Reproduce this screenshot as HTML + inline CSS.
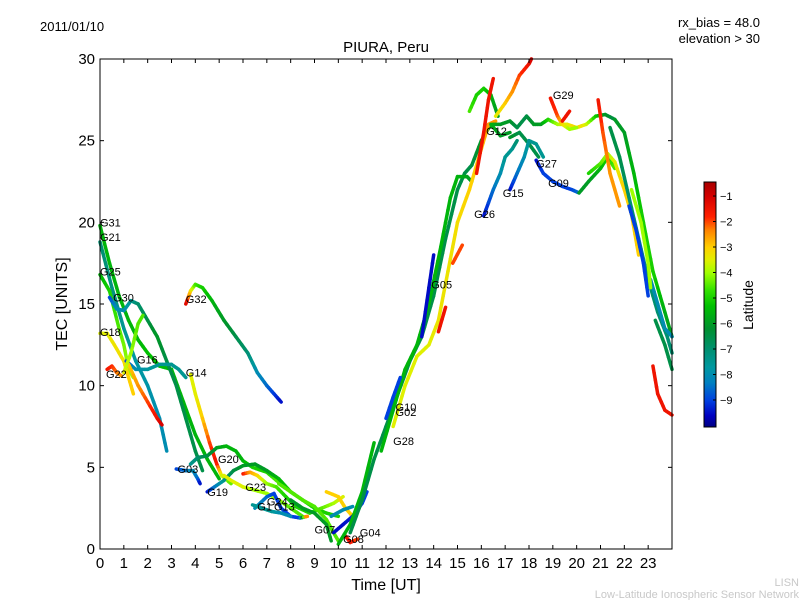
<!DOCTYPE html>
<html><head><meta charset="utf-8"><style>
body{margin:0;background:#fff;}
svg{display:block;font-family:"Liberation Sans","DejaVu Sans",sans-serif;}
</style></head><body>
<svg id="chart" width="800" height="600" viewBox="0 0 800 600" xmlns="http://www.w3.org/2000/svg">
<rect width="800" height="600" fill="#fff"/>
<g id="marks"></g>
<rect x="100" y="59" width="572" height="490" fill="none" stroke="#000" stroke-width="1"/>
<g id="axes"></g>
<g id="labels" font-size="11"></g>
<text x="40" y="31" font-size="13">2011/01/10</text>
<text x="760" y="27" font-size="13" text-anchor="end">rx_bias = 48.0</text>
<text x="760" y="43" font-size="13" text-anchor="end">elevation &gt; 30</text>
<text x="386" y="52" font-size="15" text-anchor="middle">PIURA, Peru</text>
<text transform="translate(67,304) rotate(-90)" font-size="16" text-anchor="middle">TEC [UNITS]</text>
<text x="386" y="590" font-size="16" text-anchor="middle">Time [UT]</text>
<g id="cbar"></g>
<text transform="translate(753,305) rotate(-90)" font-size="14" text-anchor="middle">Latitude</text>
<text x="799" y="586" font-size="11" fill="#c8c8c8" text-anchor="end">LISN</text>
<text x="799" y="598" font-size="11" fill="#c8c8c8" text-anchor="end">Low-Latitude Ionospheric Sensor Network</text>
</svg>
<script>
const xTicks=[0,1,2,3,4,5,6,7,8,9,10,11,12,13,14,15,16,17,18,19,20,21,22,23];
const yTicks=[0,5,10,15,20,25,30];
const cbTicks=[-1,-2,-3,-4,-5,-6,-7,-8,-9];
const trackNames=["G31","G21","G25","G30","G18","G22","G16","G16b","G18b","G14","G32","G03","G03b","G19","G20","G23","G24","G13","G07a","G07b","G07c","G04","G08","G08b","R1","R2","R3","R4","G05","G10","G05r1","G05r2","G12a","G12r","G12o","G12","G12b","G15","G26","G27","G29","G29r","N1","N2","N3","N4","N5","N6","N7","N8","N9","N10"];
const trackTimes=[
[0,0.4,0.8,1.2,1.6,2.0,2.5,3.0,3.5,4.0,4.5,5.0],
[0,0.5,1,1.5,2,2.5,2.8],
[0,0.4,0.8,1.0,1.2,1.4],
[0.4,0.7,1.0,1.3,1.6,2.0,2.4,2.8,3.2,3.6,4.0,4.3],
[0,0.3,0.6,1.0,1.2,1.4],
[0.3,0.5,0.7,0.9],
[1.1,1.5,2,2.5,3,3.3,3.6],
[1.2,1.6,2.0,2.4,2.6],
[1.0,1.3,1.6,1.8],
[3.8,4.0,4.3,4.6,4.9,5.1,5.5],
[3.6,3.8,4.0,4.3,4.7,5.2,5.7,6.2,6.6,7.0,7.3,7.6],
[3.2,3.6,3.9,4.1,4.2],
[3.8,4.1,4.5,4.9,5.3,5.7,6.0,6.4,7,7.4,8,8.5],
[4.5,4.8,5.2,5.6,6,6.5,7,7.5,8,8.5,9,9.5,10],
[5.2,5.5,6,6.5,7,7.5,8,8.5],
[6.0,6.3,6.6,7,7.4,7.8,8.2,8.8,9.3,9.8,10.2],
[6.5,7,7.3,7.6,8,8.4,8.7],
[6.4,6.8,7.2,7.6,8],
[7.5,8,8.5,9,9.5,9.8,10.0],
[8,8.5,9,9.5,9.7],
[9.5,10,10.3,10.6],
[9.8,10.2,10.6,11,11.2],
[10.3,10.5,10.8],
[9.7,10.2,10.6],
[10,10.5,11,11.5],
[10.5,11,11.5,12,12.5,13,13.5,14,14.5,15,15.3,15.6,16,16.4,16.8,17.2],
[11.8,12.3,12.8,13.3,13.8,14.3,14.7,15.0,15.4,15.6],
[12.3,12.8,13.3,13.8,14.2,14.6,15,15.5,16,16.3,16.6],
[13.5,13.8,14],
[12,12.3,12.6],
[14.2,14.5],
[14.8,15.2],
[15.5,15.8,16.1,16.4,16.7],
[15.8,16.1,16.3,16.5],
[16.6,17,17.3,17.6,18,18.1],
[16.4,16.8,17.2,17.5,17.9,18.2,18.5,18.8,19.2,19.6,20,20.4,20.8,21.2,21.6],
[17.2,17.6,18,18.4],
[17.2,17.5,17.8,18,18.3,18.6],
[16.1,16.5,16.8,17,17.3,17.5],
[18.3,18.6,19,19.4,19.8,20.1],
[18.9,19.2,19.4,19.7,20],
[19.4,19.7],
[20.1,20.5,21,21.3,21.6],
[20.5,21,21.3,21.6,22,22.3,22.6],
[21.6,22,22.4,22.8,23.2,23.6,24],
[21.4,21.8,22.2,22.6,23,23.4,23.8,24],
[22.2,22.5,22.8,23],
[23.1,23.4,23.7,24],
[20.9,21.1,21.4,21.8],
[23.2,23.4,23.7,24],
[22.3,22.7,23,23.1],
[23.3,23.7,24]];
const trackTec=[
[19.8,17.5,15.5,14,12.8,12,11.2,11,9,7,5.5,4.3],
[18.8,16,13.5,11.5,10,8,6],
[16.8,15.8,13.5,12.5,11,10.5],
[15.4,14.7,14.6,15.2,15,14,13,11.5,10,8,6,4.8],
[13.2,13.2,12.5,11.5,10.5,9.5],
[11,11.2,10.8,10.6],
[11.5,11,11,11.3,11.3,11,10.5],
[11.3,10,9,8,7.6],
[10.8,12,13.8,14.3],
[10.7,9.5,8,6.5,5.2,4.5,4],
[15,15.8,16.2,16,15.2,14,13,12,10.8,10,9.5,9],
[4.9,4.8,4.8,4.3,4],
[5.2,5.6,5.7,6.2,6.3,6,5.4,5,4.7,4.2,3.5,3],
[3.5,3.8,4.2,4.8,5.1,5.2,4.8,4.3,3.5,3,2.5,2.2,2],
[4.5,4.2,3.8,3.6,3.4,3,2.5,2],
[4.6,4.7,4.5,4.0,3.8,3.2,2.6,2.2,2.5,2.8,3.2],
[2.5,3.2,3.4,2.5,2,1.9,2.0],
[2.7,2.5,2.3,2.2,2],
[4.0,3.5,3,2.6,1.8,1,0.5],
[3,2.5,2.2,1.5,0.5],
[3.5,3.2,2.5,2],
[1.0,1.5,2,2.8,3.5],
[0.8,0.4,0.6],
[2,2.4,2.6],
[0.3,1.5,3.5,6.5],
[1,3,5.5,7.5,9.5,11.5,13,15.5,19,22,23,23.5,25,26,25.3,25.5],
[6,8.5,11,12.5,15,18.5,21.5,22.8,22.8,22.5],
[7.5,10,11.8,12.5,14,17,20,22,24.5,26,26.2],
[13,16,18],
[8,9.3,10.5],
[13.3,14.8],
[17.5,18.6],
[26.8,27.8,28.2,27.8,26.5],
[23,25.5,27.5,28.8],
[26.5,27.3,28,29,29.7,30],
[26,26,26.2,25.8,26.5,26,26,26.3,26,26,25.8,26,26.5,26.6,26.3],
[25.2,25.5,24.8,24],
[22,23,24,25,24.8,24],
[20.4,22,23,24,24.5,25],
[23.8,23,22.5,22.2,22,21.8],
[27.6,26.5,26,25.7,25.8],
[26.2,26.8],
[21.8,22.5,23.3,24,23.3],
[23,23.6,24.2,23.7,22,20.5,18],
[26.3,25.5,23,20,17,15,13],
[25.8,24,21.5,19,16.5,14.5,13,12],
[21,19.5,17.5,15.5],
[16.5,15,13.5,13],
[27.5,25.5,23,21],
[11.2,9.5,8.5,8.2],
[22,20,17.5,16],
[14,12.5,11]];
const trackLat=[
[-5.5,-5.5,-5.5,-5.5,-5.5,-5.3,-5.3,-5.5,-5.5,-5.5,-5.5,-5.5],
[-7,-7.2,-7.5,-7.7,-7.8,-8,-8],
[-5.5,-5,-4.5,-4.3,-4,-4],
[-9,-8,-8,-7.5,-7,-6.5,-6,-6.5,-6.5,-6.5,-6.5,-6.5],
[-3.5,-3.5,-3.3,-3.2,-3,-3],
[-1.5,-1.8,-2.2,-2.5],
[-9,-8,-7.7,-7.5,-7.5,-7.5,-7.5],
[-3,-2.5,-2,-1.5,-1],
[-3.5,-4,-4.5,-4.5],
[-3.5,-3.5,-3,-2,-1.5,-3.5,-4.5],
[-1,-3,-4.5,-5,-5.5,-6,-6.5,-7,-8,-8.5,-9,-9.5],
[-9,-8.5,-8,-8.5,-9.5],
[-7.5,-7,-6.5,-6,-5.5,-5.5,-5.5,-5,-5,-4.5,-4.5,-4.5],
[-9.5,-8.5,-7.5,-6.5,-6,-6,-6,-5.5,-5,-5,-5,-5,-5],
[-3.5,-3.5,-3.5,-4,-4,-4,-4.5,-4.5],
[-1.5,-2.5,-3,-4,-4.5,-5,-5,-5,-4.5,-4,-3.5],
[-8,-8.5,-9,-9,-9,-9,-1.5],
[-7.5,-7.5,-7.5,-8,-8],
[-4.5,-4.5,-4.5,-4.5,-4.5,-4.5,-4.5],
[-6,-6,-6,-6,-6],
[-3,-3,-3,-3],
[-9.5,-9.5,-9.3,-9,-9],
[-1.5,-1.5,-2],
[-8,-8,-8],
[-5.5,-5.5,-5.5,-5.5],
[-6.5,-6.5,-6.5,-6.5,-6.5,-6.5,-6.5,-6.5,-6.5,-6.5,-6.5,-6.5,-6,-5.5,-6,-6],
[-5.5,-5.5,-5.5,-5.5,-5.5,-5.5,-5.5,-5.5,-5.8,-6],
[-3.5,-3.5,-3.5,-3.5,-3.3,-3.3,-3.2,-3,-3,-2.5,-2.5],
[-9.5,-9.5,-9.5],
[-9,-9,-9],
[-1.5,-1.5],
[-2,-2],
[-4.5,-5,-5,-5.5,-6],
[-1.5,-1.5,-1.5,-1.5],
[-3.5,-3,-2.5,-2,-1.5,-1],
[-5.5,-6,-6,-6.5,-6.5,-6,-6,-5,-4,-3.5,-3,-3.5,-5,-6,-6.5],
[-6,-6.5,-6.5,-6.5],
[-9.5,-8.5,-8,-7.5,-7.5,-7.5],
[-9.5,-8.5,-8,-7.5,-7.5,-7],
[-9.5,-9,-9,-9,-9,-8.5],
[-1.5,-2,-3,-4,-4],
[-1.5,-1.5],
[-6,-6,-5.5,-5,-4.5],
[-5,-4.5,-4,-3.5,-3,-3,-3],
[-6,-6,-5.5,-5,-5,-5.5,-6],
[-6.5,-6.5,-7,-7,-7,-7,-7,-7],
[-9,-9,-9,-9],
[-8,-8,-8,-8],
[-1.5,-2,-2.5,-2.5],
[-1.5,-1.5,-1.5,-1.5],
[-4,-4,-4,-4],
[-6.5,-6.5,-6.5]];
const satLabels=["G31","G21","G25","G30","G18","G16","G22","G14","G32","G03","G20","G19","G23","G24","G13","G1","G07","G04","G08","G28","G02","G10","G05","G26","G15","G12","G27","G09","G29"];
const labelT=[0,0,0,0.55,0,1.55,0.25,3.6,3.6,3.25,4.95,4.5,6.1,7.0,7.3,6.6,9.0,10.9,10.2,12.3,12.4,12.4,13.9,15.7,16.9,16.2,18.3,18.8,19.0];
const labelV=[20,19.1,17,15.4,13.3,11.6,10.7,10.8,15.3,4.9,5.5,3.5,3.8,2.9,2.6,2.6,1.2,1.0,0.6,6.6,8.4,8.7,16.2,20.5,21.8,25.6,23.6,22.4,27.8];

const X0=100,X1=672,Y0=549,Y1=59;
const xs=t=>X0+(X1-X0)*t/24;
const ys=v=>Y0-(Y0-Y1)*v/30;
const LMIN=-10.06,LMAX=-0.45;
const cmapStops=[[-10.06,[0,0,128]],[-9.6,[0,0,192]],[-9,[0,64,224]],[-8.3,[0,128,192]],[-7.7,[0,152,160]],[-7,[0,144,112]],[-6.2,[0,144,48]],[-5.3,[0,192,0]],[-4.7,[48,224,0]],[-4,[160,255,0]],[-3.5,[224,240,0]],[-3,[255,208,0]],[-2.3,[255,128,0]],[-1.8,[255,32,0]],[-1,[212,0,0]],[-0.45,[170,0,0]]];
function latColor(l){
 if(l<=cmapStops[0][0])return `rgb(${cmapStops[0][1].join(',')})`;
 for(let i=1;i<cmapStops.length;i++){
  if(l<=cmapStops[i][0]){const a=cmapStops[i-1],b=cmapStops[i];const f=(l-a[0])/(b[0]-a[0]);
   return `rgb(${a[1].map((c,k)=>Math.round(c+(b[1][k]-c)*f)).join(',')})`;}
 }
 return `rgb(${cmapStops[cmapStops.length-1][1].join(',')})`;
}
const NS="http://www.w3.org/2000/svg";
const marks=document.getElementById('marks');
for(let i=0;i<trackTimes.length;i++){
 const g=document.createElementNS(NS,'g');
 
 
 const T=trackTimes[i],V=trackTec[i],L=trackLat[i];
 for(let j=0;j<T.length-1;j++){
  const n=4;
  for(let k=0;k<n;k++){
   const a=k/n,b=(k+1)/n;
   const ln=document.createElementNS(NS,'line');
   
   
   ln.setAttribute('x1',xs(T[j]+(T[j+1]-T[j])*a));ln.setAttribute('y1',ys(V[j]+(V[j+1]-V[j])*a));
   ln.setAttribute('x2',xs(T[j]+(T[j+1]-T[j])*b));ln.setAttribute('y2',ys(V[j]+(V[j+1]-V[j])*b));
   ln.setAttribute('stroke',latColor(L[j]+(L[j+1]-L[j])*(a+b)/2));
   ln.setAttribute('stroke-width','3.5');ln.setAttribute('stroke-linecap','round');
   g.appendChild(ln);
  }
 }
 marks.appendChild(g);
}
const axes=document.getElementById('axes');
function add(parent,tag,attrs,txt){const e=document.createElementNS(NS,tag);for(const k in attrs)e.setAttribute(k,attrs[k]);if(txt!==undefined)e.textContent=txt;parent.appendChild(e);return e;}
xTicks.forEach(t=>{const x=xs(t);
 const a=add(axes,'line',{x1:x,y1:Y0,x2:x,y2:Y0-4,stroke:'#000'});
 const b=add(axes,'line',{x1:x,y1:Y1,x2:x,y2:Y1+4,stroke:'#000'});
 const l=add(axes,'text',{x:x,y:568,'font-size':15,'text-anchor':'middle'},String(t));});
yTicks.forEach(v=>{const y=ys(v);
 const a=add(axes,'line',{x1:X0,y1:y,x2:X0+4,y2:y,stroke:'#000'});
 const b=add(axes,'line',{x1:X1,y1:y,x2:X1-4,y2:y,stroke:'#000'});
 const l=add(axes,'text',{x:95,y:y+5,'font-size':15,'text-anchor':'end'},String(v));});
const labs=document.getElementById('labels');
satLabels.forEach((s,i)=>{const l=add(labs,'text',{x:xs(labelT[i]),y:ys(labelV[i])+4},s);});
const cb=document.getElementById('cbar');
const CX=704,CW=12,CT=182,CB=427;
for(let y=CT;y<CB;y++){const lat=LMAX-(LMAX-LMIN)*(y-CT)/(CB-CT);
 const r=add(cb,'rect',{x:CX,y:y,width:CW,height:1.2,fill:latColor(lat)});}
const fr=add(cb,'rect',{x:CX,y:CT,width:CW,height:CB-CT,fill:'none',stroke:'#000'});
cbTicks.forEach(v=>{const y=CT+(LMAX-v)/(LMAX-LMIN)*(CB-CT);
 const a=add(cb,'line',{x1:CX+CW-3,y1:y,x2:CX+CW,y2:y,stroke:'#000'});
 const l=add(cb,'text',{x:CX+CW+4,y:y+4,'font-size':11},'\u2212'+Math.abs(v));});
</script>
</body></html>
